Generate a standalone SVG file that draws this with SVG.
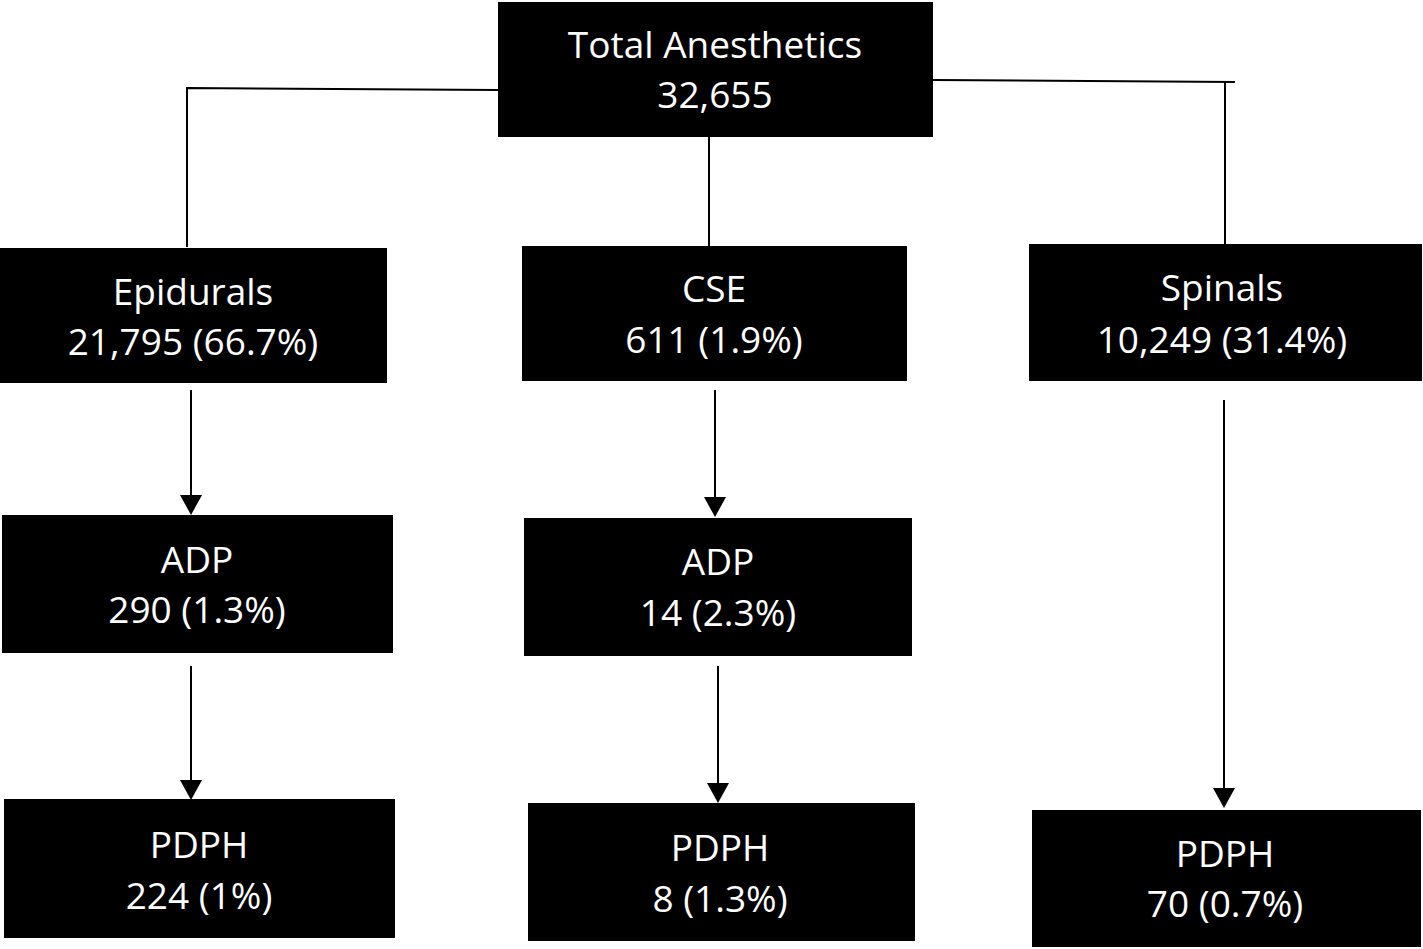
<svg xmlns="http://www.w3.org/2000/svg" width="1423" height="949" viewBox="0 0 1423 949">
<style>
.box{fill:#000}
.t{fill:#fff;font-family:"Open Sans","Liberation Sans",sans-serif;font-size:37px;text-anchor:middle}
.c{stroke:#000;stroke-width:2;fill:none}
.ah{fill:#000}
</style>
<rect width="1423" height="949" fill="#fff"/>
<g id="connectors">
<path class="c" d="M498,90 L187,88 L187,247"/>
<path class="c" d="M933,80 L1235,82"/>
<path class="c" d="M1225,81 L1225,244"/>
<path class="c" d="M709,137 L709,246"/>
<path class="c" d="M191,390 L191,496"/>
<polygon class="ah" points="180,495 202,495 191,515"/>
<path class="c" d="M191,666 L191,781"/>
<polygon class="ah" points="180,780 202,780 191,800"/>
<path class="c" d="M715,390 L715,498"/>
<polygon class="ah" points="704,497 726,497 715,517"/>
<path class="c" d="M718,666 L718,784"/>
<polygon class="ah" points="707,783 729,783 718,803"/>
<path class="c" d="M1224,400 L1224,789"/>
<polygon class="ah" points="1213,788 1235,788 1224,808"/>
</g>
<g id="total"><rect class="box" x="498" y="2" width="435" height="135"/><text class="t" x="715" y="58">Total Anesthetics</text><text class="t" x="715" y="108">32,655</text></g>
<g id="epidurals"><rect class="box" x="0" y="248" width="387" height="135"/><text class="t" x="193" y="305">Epidurals</text><text class="t" x="193" y="355">21,795 (66.7%)</text></g>
<g id="cse"><rect class="box" x="522" y="246" width="385" height="135"/><text class="t" x="714" y="302">CSE</text><text class="t" x="714" y="353">611 (1.9%)</text></g>
<g id="spinals"><rect class="box" x="1029" y="244" width="393" height="137"/><text class="t" x="1222" y="301">Spinals</text><text class="t" x="1222" y="353">10,249 (31.4%)</text></g>
<g id="adp1"><rect class="box" x="2" y="515" width="391" height="138"/><text class="t" x="197" y="573">ADP</text><text class="t" x="197" y="623">290 (1.3%)</text></g>
<g id="adp2"><rect class="box" x="524" y="518" width="388" height="138"/><text class="t" x="718" y="575">ADP</text><text class="t" x="718" y="626">14 (2.3%)</text></g>
<g id="pdph1"><rect class="box" x="4" y="799" width="391" height="139"/><text class="t" x="199" y="858">PDPH</text><text class="t" x="199" y="909">224 (1%)</text></g>
<g id="pdph2"><rect class="box" x="528" y="803" width="387" height="138"/><text class="t" x="720" y="861">PDPH</text><text class="t" x="720" y="912">8 (1.3%)</text></g>
<g id="pdph3"><rect class="box" x="1032" y="810" width="389" height="137"/><text class="t" x="1225" y="867">PDPH</text><text class="t" x="1225" y="917">70 (0.7%)</text></g>
</svg>
